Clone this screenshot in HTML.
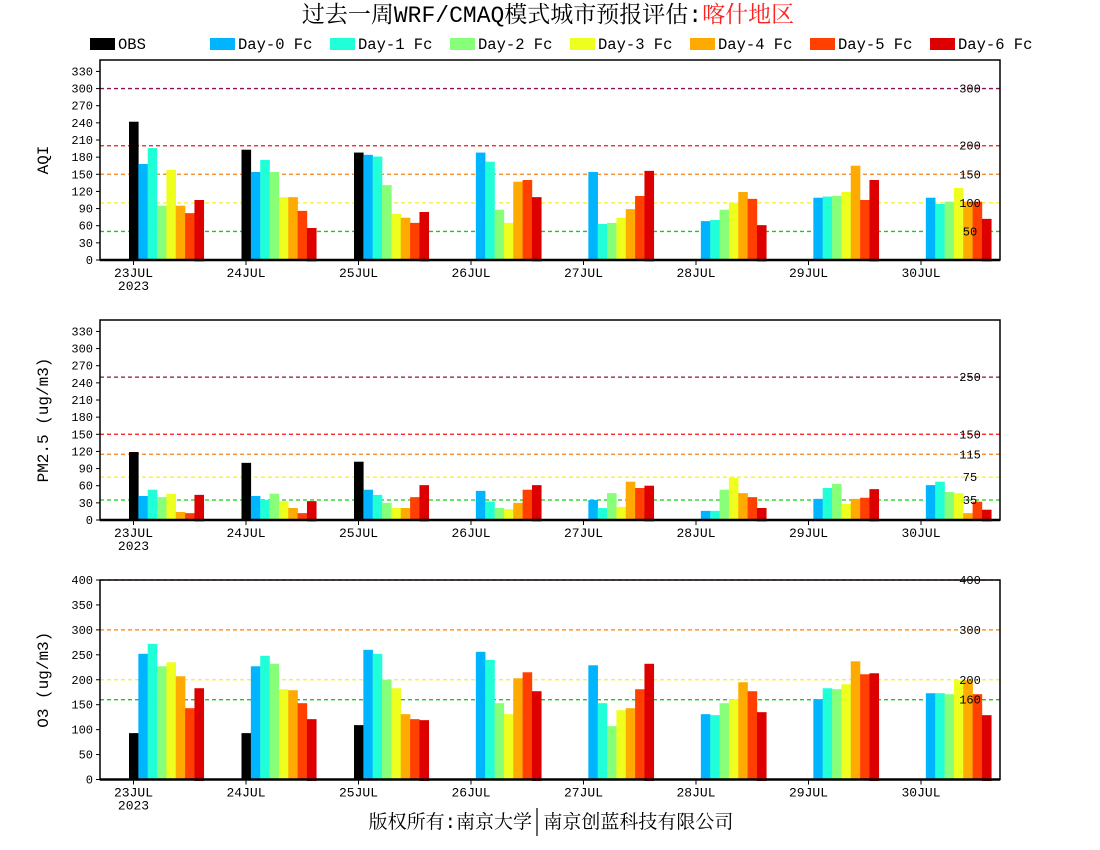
<!DOCTYPE html>
<html><head><meta charset="utf-8">
<style>
body{margin:0;background:#fff;}
svg{display:block;}
text{font-family:"Liberation Mono","DejaVu Sans Mono",monospace;}
.cj{font-family:"Liberation Mono","Noto Serif CJK SC","Noto Sans CJK SC",serif;}
</style></head>
<body>
<svg id="s" width="1100" height="850" xmlns="http://www.w3.org/2000/svg">
<text class="cj" x="548" y="22" font-size="23" text-anchor="middle">过去一周WRF/CMAQ模式城市预报评估:<tspan fill="#ff2020">喀什地区</tspan></text>
<text class="cj" x="551" y="828" font-size="19" text-anchor="middle">版权所有:南京大学<tspan fill="#fff">_</tspan><tspan>南京创蓝科技有限公司</tspan></text>
<line x1="537" y1="808" x2="537" y2="836" stroke="#000" stroke-width="1.2"/>
</svg>
<script>
const s=document.getElementById('s');
const NS='http://www.w3.org/2000/svg';
function el(t,a,txt){const e=document.createElementNS(NS,t);for(const k in a)e.setAttribute(k,a[k]);if(txt!==undefined)e.textContent=txt;s.appendChild(e);return e;}
const cols=['#000000','#00b4ff','#20ffd8','#88ff78','#eeff20','#ffaa00','#ff4000','#dd0000'];
const names=['OBS','Day-0 Fc','Day-1 Fc','Day-2 Fc','Day-3 Fc','Day-4 Fc','Day-5 Fc','Day-6 Fc'];
for(let i=0;i<8;i++){const x=90+120*i;el('rect',{x:x,y:38,width:25,height:12,fill:cols[i]});el('text',{x:x+28,y:49,'font-size':15.5},names[i]);}
const aqi=[[242,168,196,95,158,95,82,105],[193,154,175,154,110,110,86,56],[188,184,181,131,81,74,65,84],[null,188,172,88,65,137,140,110],[null,154,63,65,74,89,112,156],[null,68,70,88,100,119,107,61],[null,109,111,112,119,165,105,140],[null,109,98,102,126,102,102,72]];
const pm=[[119,42,53,40,46,14,12,44],[100,42,35,46,33,21,12,33],[102,53,44,30,21,21,40,61],[null,51,32,21,19,30,53,61],[null,35,21,47,23,67,56,60],[null,16,16,53,74,47,40,21],[null,37,56,63,28,37,39,54],[null,61,67,49,47,12,32,18]];
const o3=[[93,252,272,227,235,207,143,183],[93,227,248,232,181,179,153,121],[109,260,252,200,183,131,121,119],[null,256,240,153,131,203,215,177],[null,229,153,107,139,143,181,232],[null,131,129,153,161,195,177,135],[null,161,183,181,191,237,211,213],[null,173,173,171,199,199,171,129]];
const days=['23JUL','24JUL','25JUL','26JUL','27JUL','28JUL','29JUL','30JUL'];
function panel(top,bot,max,step,tmax,data,lines,label){
  const sc=(bot-top)/max;
  const Y=v=>bot-v*sc;
  lines.forEach(l=>{el('line',{x1:100,x2:1000,y1:Y(l[0]),y2:Y(l[0]),stroke:l[1],'stroke-width':1.3,'stroke-dasharray':'4,3'});});
  for(let d=0;d<8;d++){const t=133.5+112.5*d;
    for(let i=0;i<8;i++){const v=data[d][i];if(v==null)continue;
      const x=t-4.5+i*9.35;el('rect',{x:x,y:Y(v),width:9.6,height:v*sc+(i==7?1.5:0),fill:cols[i]});}
    el('line',{x1:t,x2:t,y1:bot,y2:bot+5,stroke:'#000','stroke-width':1});
    el('text',{x:t,y:bot+17,'font-size':13,'text-anchor':'middle'},days[d]);
    if(d==0)el('text',{x:t,y:bot+30,'font-size':13,'text-anchor':'middle'},'2023');
  }
  lines.forEach(l=>{el('text',{x:970,y:Y(l[0])+4,'font-size':12,'text-anchor':'middle'},String(l[0]));});
  for(let v=0;v<=tmax;v+=step){el('line',{x1:96,x2:100,y1:Y(v),y2:Y(v),stroke:'#000'});el('text',{x:93,y:Y(v)+4,'font-size':12,'text-anchor':'end'},String(v));}
  el('rect',{x:100,y:top,width:900,height:bot-top,fill:'none',stroke:'#000','stroke-width':1.5});
  el('line',{x1:100,x2:1000,y1:bot,y2:bot,stroke:'#000','stroke-width':2.5});
  const cy=(top+bot)/2;
  el('text',{x:0,y:0,'font-size':16,'text-anchor':'middle',transform:`translate(48,${cy}) rotate(-90)`},label);
}
panel(60,260,350,30,330,aqi,[[300,'#8b1050'],[200,'#ff1010'],[150,'#f08020'],[100,'#f8f020'],[50,'#10d010']],'AQI');
panel(320,520,350,30,330,pm,[[250,'#8b1050'],[150,'#ff1010'],[115,'#f08020'],[75,'#f8f020'],[35,'#10d010']],'PM2.5 (ug/m3)');
panel(580,779.5,400,50,400,o3,[[400,'#ff1010'],[300,'#ff8000'],[200,'#f8f020'],[160,'#10d010']],'O3 (ug/m3)');
</script>
</body></html>
